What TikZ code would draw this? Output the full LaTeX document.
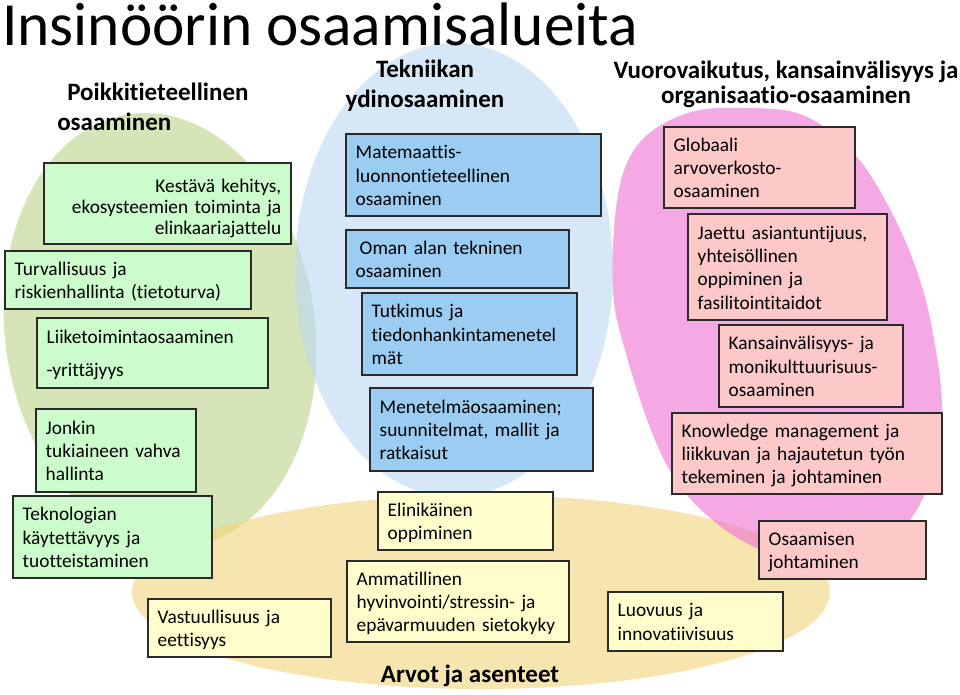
\documentclass[tikz,border=0pt]{standalone}
\usepackage{fontspec}
\setmainfont{Carlito}[Ligatures={NoCommon}]
\definecolor{ellgreen}{HTML}{BCD58A}
\definecolor{ellblue}{HTML}{BBDAF3}
\definecolor{ellyellow}{HTML}{F3D57A}
\definecolor{ellpink}{HTML}{EE6ED2}
\definecolor{gfill}{HTML}{CCFCCC}
\definecolor{bfill}{HTML}{9BCDF2}
\definecolor{yfill}{HTML}{FEFDCB}
\definecolor{pfill}{HTML}{FCC8C8}
\definecolor{boxline}{HTML}{2A2A2A}

\begin{document}
\begin{tikzpicture}[x=0.75pt, y=-0.75pt,
    box/.style={draw=boxline, line width=1.1pt, align=left, inner xsep=7.3pt, inner ysep=0pt,
        font=\fontsize{14.5}{17.5}\selectfont,
        execute at begin node={\rule{0pt}{14pt}}, execute at end node={\rule[-3.5pt]{0pt}{3.5pt}}},
    gbox/.style={box, fill=gfill},
    bbox/.style={box, fill=bfill},
    ybox/.style={box, fill=yfill},
    pbox/.style={box, fill=pfill},
    head/.style={font=\bfseries\fontsize{18.75}{22.5}\selectfont, inner sep=0pt}]
    \useasboundingbox (0,0) rectangle (960,694);
    \fill[white] (0,0) rectangle (960,694);
    % the four areas
    \fill[ellgreen, fill opacity=0.6, rotate around={8:(160,330)}] (160,330) ellipse (116.25pt and 163.5pt);
    \fill[ellblue, fill opacity=0.6] (454,270) ellipse (119.25pt and 170.25pt);
    \fill[ellyellow, fill opacity=0.6] (481,592) ellipse (261.75pt and 72.75pt);
    \fill[ellpink, fill opacity=0.6] plot[smooth cycle, tension=0.6] coordinates {
        (745,108) (805,116) (857,157) (897,223) (923,290) (937,357) (942,407) (939,457)
        (926,492) (903,528) (860,556) (805,563) (759,549) (720,526) (683,490) (655,440)
        (627,357) (613,290) (618,195) (640,142) (688,113)};
    % headings
    \node[anchor=base west, inner sep=0pt, font=\fontsize{46}{55}\selectfont] (title) at (2,45) {Insinöörin osaamisalueita};
    \node[head, anchor=north west, align=left] (hpoikki) at (57,83) {\hspace*{7.5pt}Poikkitieteellinen\\osaaminen};
    \node[head, anchor=north, align=center] (htekn) at (425,60) {Tekniikan\\ydinosaaminen};
    \node[head, anchor=north, align=center] (hvuoro) at (786,60.5) {Vuorovaikutus, kansainvälisyys ja\\[-3.75pt]organisaatio-osaaminen};
    \node[head, anchor=base] (harvot) at (470,682) {Arvot ja asenteet};
    % poikkitieteellinen
    \node[gbox, align=right, font=\fontsize{14.5}{15.75}\selectfont, execute at begin node={\rule{0pt}{18pt}},
        text width=170.65pt, minimum height=60.75pt] (kestava) at (167.5,203.5) {Kestävä kehitys,\\ekosysteemien toiminta ja\\elinkaariajattelu};
    \node[gbox, text width=169.9pt, minimum height=43.5pt] (turva) at (128,280) {Turvallisuus ja\\riskienhallinta (tietoturva)};
    \node[gbox, text width=158.65pt, minimum height=52.5pt] (liike) at (152.5,353) {Liiketoimintaosaaminen\\[7.25pt]-yrittäjyys};
    \node[gbox, text width=105.4pt, minimum height=62.25pt] (jonkin) at (116,450.5) {Jonkin\\tukiaineen vahva\\hallinta};
    \node[gbox, text width=134.65pt, minimum height=61.5pt] (tekno) at (112.5,537) {Teknologian\\käytettävyys ja\\tuotteistaminen};
    % tekniikan ydinosaaminen
    \node[bbox, text width=176.65pt, minimum height=61.5pt] (matem) at (473.5,175) {Matemaattis-\\luonnontieteellinen\\osaaminen};
    \node[bbox, text width=152.65pt, minimum height=43.5pt] (oman) at (457.5,259) {\hspace*{3pt}Oman alan tekninen\\osaaminen};
    \node[bbox, text width=146.65pt, minimum height=61.5pt] (tutkimus) at (469.5,334) {Tutkimus ja\\tiedonhankintamenetel\\mät};
    \node[bbox, text width=152.65pt, minimum height=62.25pt] (menetelma) at (481.5,429.5) {Menetelmäosaaminen;\\suunnitelmat, mallit ja\\ratkaisut};
    % arvot ja asenteet
    \node[ybox, text width=122.65pt, minimum height=43.5pt] (vastuu) at (239.5,628) {Vastuullisuus ja\\eettisyys};
    \node[ybox, text width=116.65pt, minimum height=43.5pt] (elinikainen) at (465.5,521) {Elinikäinen\\oppiminen};
    \node[ybox, text width=151.9pt, minimum height=60.75pt] (ammat) at (458,601.5) {Ammatillinen\\hyvinvointi/stressin- ja\\epävarmuuden sietokyky};
    \node[ybox, text width=116.65pt, minimum height=44.25pt] (luovuus) at (695.5,621.5) {Luovuus ja\\innovatiivisuus};
    % vuorovaikutus
    \node[pbox, text width=128.65pt, minimum height=60.75pt] (globaali) at (759.5,167.5) {Globaali\\arvoverkosto-\\osaaminen};
    \node[pbox, text width=134.65pt, minimum height=79.5pt] (jaettu) at (787.5,267) {Jaettu asiantuntijuus,\\yhteisöllinen\\oppiminen ja\\fasilitointitaidot};
    \node[pbox, text width=123.4pt, minimum height=61.5pt] (kansainv) at (811,366) {Kansainvälisyys- ja\\monikulttuurisuus-\\osaaminen};
    \node[pbox, text width=187.9pt, minimum height=60.75pt] (knowledge) at (807,453.5) {Knowledge management ja\\liikkuvan ja hajautetun työn\\tekeminen ja johtaminen};
    \node[pbox, text width=110.65pt, minimum height=43.5pt] (osjoht) at (842.5,550) {Osaamisen\\johtaminen};
\end{tikzpicture}
\end{document}
